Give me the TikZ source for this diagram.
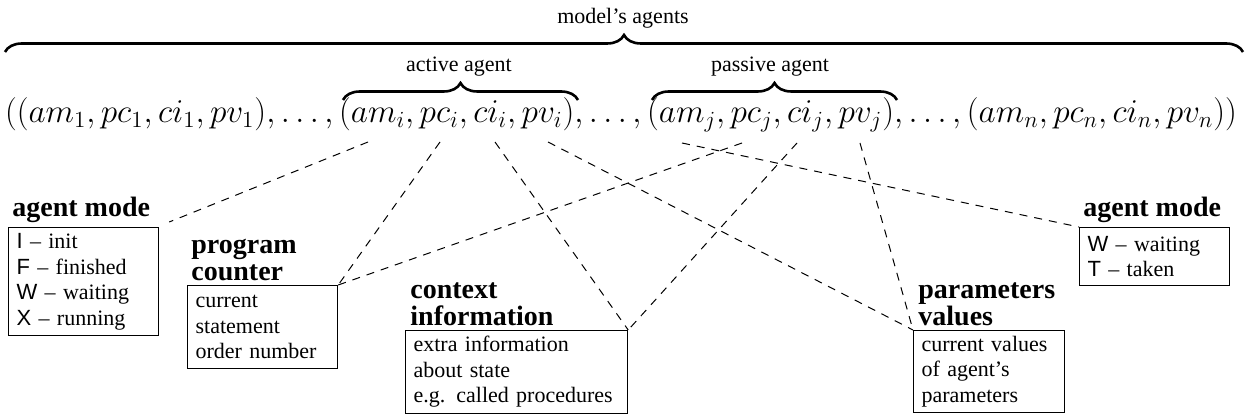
\documentclass[tikz,border=0pt]{standalone}
\usepackage{graphicx}
\usepackage{fontspec}
\setmainfont{Liberation Serif}
\newfontfamily\lsans{Liberation Sans}
\usetikzlibrary{decorations.pathreplacing}
\newcommand\myboxfont{\fontsize{11}{12.75}\selectfont\setlength{\spaceskip}{0.45em plus 0.1em}}
\newcommand\mytitlefont{\fontsize{14}{13.5}\selectfont\bfseries}
\begin{document}
\begin{tikzpicture}[x=0.5pt,y=-0.5pt,
  boxst/.style={draw, line width=0.6pt, anchor=north west, inner xsep=4pt, inner ysep=0pt,
    align=left, font=\myboxfont},
  titlest/.style={anchor=south west, inner sep=0pt, align=left, font=\mytitlefont},
  lblst/.style={inner sep=0pt, font=\fontsize{11}{13}\selectfont},
  bracest/.style={decorate, decoration={brace, amplitude=8.5pt}, line width=1.3pt},
  conn/.style={dash pattern=on 4pt off 3.5pt, line width=0.5pt}]
\useasboundingbox (0,0) rectangle (1247,416);

% formula
\node[anchor=base, inner sep=0pt, font=\fontsize{17.28}{20}\selectfont] (formula) at (621,123)
  {\scalebox{0.962}{$((am_1,pc_1,ci_1,pv_1),\ldots,(am_i,pc_i,ci_i,pv_i),\ldots,(am_j,pc_j,ci_j,pv_j),\ldots,(am_n,pc_n,ci_n,pv_n))$}};

% braces
\coordinate (mL) at (5,52);
\coordinate (mR) at (1243,52);
\coordinate (aL) at (343,100);
\coordinate (aR) at (578,100);
\coordinate (pL) at (652,100);
\coordinate (pR) at (897,100);
\draw[bracest] (mL) -- (mR);
\draw[bracest] (aL) -- (aR);
\draw[bracest] (pL) -- (pR);
\node[lblst] (model) at (623,18) {model’s agents};
\node[lblst] (active) at (459,67) {active agent};
\node[lblst] (passive) at (770,67) {passive agent};

% boxes
\node[boxst, text width=67pt, minimum height=54pt] (amL) at (8,227)
  {{\lsans I} -- init\\{\lsans F} -- finished\\{\lsans W} -- waiting\\{\lsans X} -- running};
\node[titlest] (amLt) at ([shift={(4,-4)}]amL.north west) {agent mode};

\node[boxst, text width=67pt, minimum height=41.5pt] (pc) at (187,285)
  {current\\statement\\order number};
\node[titlest] (pct) at ([shift={(4,-4)}]pc.north west) {program\\counter};

\node[boxst, text width=103pt, minimum height=41.5pt] (ci) at (405,330)
  {extra information\\about state\\e.g. called procedures};
\node[titlest] (cit) at ([shift={(5,-4)}]ci.north west) {context\\information};

\node[boxst, text width=67.5pt, minimum height=41pt] (pv) at (913,330)
  {current values\\of agent’s\\parameters};
\node[titlest] (pvt) at ([shift={(5,-4)}]pv.north west) {parameters\\values};

\node[boxst, text width=67pt, minimum height=29pt] (amR) at (1079,227)
  {{\lsans W} -- waiting\\{\lsans T} -- taken};
\node[titlest] (amRt) at ([shift={(4,-4)}]amR.north west) {agent mode};

% connector start points under the formula symbols
\coordinate (ami) at (368,142);
\coordinate (pci) at (440,142);
\coordinate (cii) at (495,142);
\coordinate (pvi) at (548,142);
\coordinate (amj) at (682,143);
\coordinate (pcj) at (742,143);
\coordinate (cij) at (797,143);
\coordinate (pvj) at (860,143);
\coordinate (amLend) at ([shift={(10,-5)}]amL.north east);

\draw[conn] (ami) -- (amLend);
\draw[conn] (pci) -- (pc.north east);
\draw[conn] (cii) -- (ci.north east);
\draw[conn] (pvi) -- (pv.north west);
\draw[conn] (amj) -- (amR.north west);
\draw[conn] (pcj) -- (pc.north east);
\draw[conn] (cij) -- (ci.north east);
\draw[conn] (pvj) -- (pv.north west);
\end{tikzpicture}
\end{document}
